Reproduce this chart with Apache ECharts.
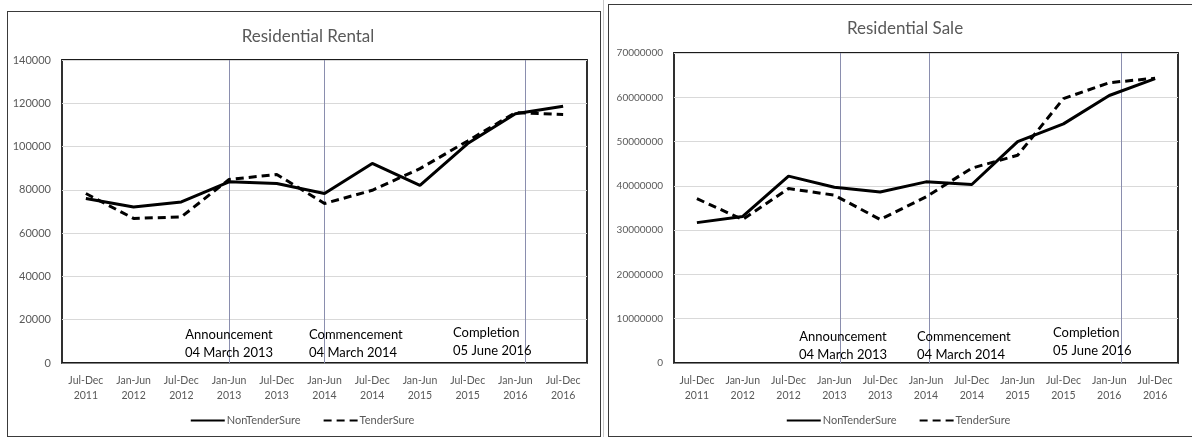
<!DOCTYPE html>
<html>
<head>
<meta charset="utf-8">
<script src="https://cdn.jsdelivr.net/npm/echarts@6/dist/echarts.min.js"></script>
<style>
    body { margin: 0; background: #fff; }
    #wrap { position: relative; width: 1192px; height: 437px; overflow: hidden; background: #fff; }
    .frame { position: absolute; border: 1.5px solid #3a3a3a; box-sizing: border-box; }
    .sep { position: absolute; left: 603px; top: 0; width: 1px; height: 437px; background: #c8c8c8; }
    .chartshow { position: absolute; top: 0; height: 437px; }
</style>
</head>
<body>
<div id="wrap">
    <div class="frame" style="left:7px;top:11px;width:594px;height:426px;"></div>
    <div class="sep"></div>
    <div class="frame" style="left:608px;top:4px;width:590px;height:433px;"></div>
    <div class="chartshow" style="left:0;width:604px;"></div>
    <div class="chartshow" style="left:604px;width:588px;"></div>
</div>
<script>
var categories = ['Jul-Dec\n2011', 'Jan-Jun\n2012', 'Jul-Dec\n2012', 'Jan-Jun\n2013', 'Jul-Dec\n2013',
    'Jan-Jun\n2014', 'Jul-Dec\n2014', 'Jan-Jun\n2015', 'Jul-Dec\n2015', 'Jan-Jun\n2016', 'Jul-Dec\n2016'];

// Residential Rental
var rentalNonTender = [76000, 72100, 74400, 83700, 82900, 78300, 92200, 82100, 101400, 115200, 118600];
var rentalTender = [78300, 66800, 67500, 84800, 87100, 73700, 79800, 89800, 102600, 115700, 114800];
var rentalEvents = [3.0, 5.0, 9.2];

// Residential Sale
var saleNonTender = [31700000, 33100000, 42200000, 39700000, 38600000, 40900000, 40300000, 50000000, 54000000, 60400000, 64200000];
var saleTender = [37100000, 32400000, 39400000, 37900000, 32400000, 37500000, 44000000, 46900000, 59700000, 63300000, 64300000];
var saleEvents = [3.12, 5.07, 9.26];

var eventTexts = ['Announcement\n04 March 2013', 'Commencement\n04 March 2014', 'Completion\n05 June 2016'];

var FONT = 'Lato, "Open Sans", sans-serif';

function setLines(target, cfg) {
    var option = {
        animation: false,
        textStyle: { fontFamily: FONT },
        title: {
            text: cfg.title,
            left: cfg.titleX,
            top: cfg.titleY,
            textAlign: 'center',
            textStyle: { fontSize: 17, fontWeight: 'normal', color: '#595959', fontFamily: FONT }
        },
        legend: {
            left: 'center',
            top: 410,
            itemWidth: 34,
            itemHeight: 4,
            itemGap: 22,
            selectedMode: false,
            itemStyle: { opacity: 0 },
            textStyle: { fontSize: 11, color: '#595959', fontFamily: FONT, padding: [0, 0, 0, -3] },
            data: ['NonTenderSure', 'TenderSure']
        },
        grid: {
            left: cfg.grid[0],
            top: cfg.grid[1],
            width: cfg.grid[2],
            height: cfg.grid[3],
            show: true,
            borderColor: '#1a1a1a',
            borderWidth: 1.8,
            containLabel: false
        },
        xAxis: [{
            type: 'category',
            data: categories,
            boundaryGap: true,
            axisLine: { show: true, lineStyle: { color: '#7f7f7f', width: 1 } },
            axisTick: { show: false },
            splitLine: { show: false },
            axisLabel: {
                interval: 0,
                margin: 10,
                fontSize: 10.5,
                lineHeight: 15,
                color: '#595959',
                fontFamily: FONT
            }
        }, {
            type: 'value',
            min: -0.5,
            max: 10.5,
            show: false
        }],
        yAxis: {
            type: 'value',
            min: 0,
            max: cfg.yMax,
            interval: cfg.yStep,
            axisLine: { show: false },
            axisTick: { show: false },
            axisLabel: {
                margin: 11,
                fontSize: cfg.yFont,
                color: '#595959',
                fontFamily: FONT,
                formatter: function (v) { return String(v); }
            },
            splitLine: { lineStyle: { color: '#d9d9d9', width: 1 } }
        },
        graphic: cfg.notes.map(function (n, i) {
            return {
                type: 'text',
                x: n[0],
                y: n[1],
                z: 100,
                style: {
                    text: eventTexts[i],
                    font: '13px ' + FONT,
                    fill: '#000',
                    textAlign: n[2],
                    textVerticalAlign: 'top',
                    lineHeight: 18
                }
            };
        }),
        series: [{
            name: 'NonTenderSure',
            type: 'line',
            symbol: 'none',
            color: '#000',
            lineStyle: { color: '#000', width: 3 },
            z: 5,
            data: cfg.nonTender
        }, {
            name: 'TenderSure',
            type: 'line',
            symbol: 'none',
            color: '#000',
            lineStyle: { color: '#000', width: 3, type: [8, 5] },
            z: 5,
            data: cfg.tender
        }, {
            name: 'events',
            type: 'line',
            xAxisIndex: 1,
            symbol: 'none',
            silent: true,
            z: 1,
            data: [],
            markLine: {
                silent: true,
                symbol: ['none', 'none'],
                label: { show: false },
                lineStyle: { color: '#8a8eae', width: 1, type: 'solid' },
                data: cfg.events.map(function (e) { return { xAxis: e }; })
            }
        }]
    };
    target.setOption(option);
}

var boxes = document.querySelectorAll('.chartshow');
var rentalChart = echarts.init(boxes[0]);
var saleChart = echarts.init(boxes[1]);

setLines(rentalChart, {
    title: 'Residential Rental',
    titleX: 303,
    titleY: 23,
    grid: [62, 60, 525, 303],
    yMax: 140000,
    yStep: 20000,
    yFont: 11,
    nonTender: rentalNonTender,
    tender: rentalTender,
    events: rentalEvents,
    notes: [[229, 326, 'center'], [309, 326, 'left'], [453, 324, 'left']]
});

setLines(saleChart, {
    title: 'Residential Sale',
    titleX: 296,
    titleY: 15,
    grid: [70, 53, 504, 310],
    yMax: 70000000,
    yStep: 10000000,
    yFont: 10,
    nonTender: saleNonTender,
    tender: saleTender,
    events: saleEvents,
    notes: [[239, 328, 'center'], [313, 328, 'left'], [449, 324, 'left']]
});
</script>
</body>
</html>
